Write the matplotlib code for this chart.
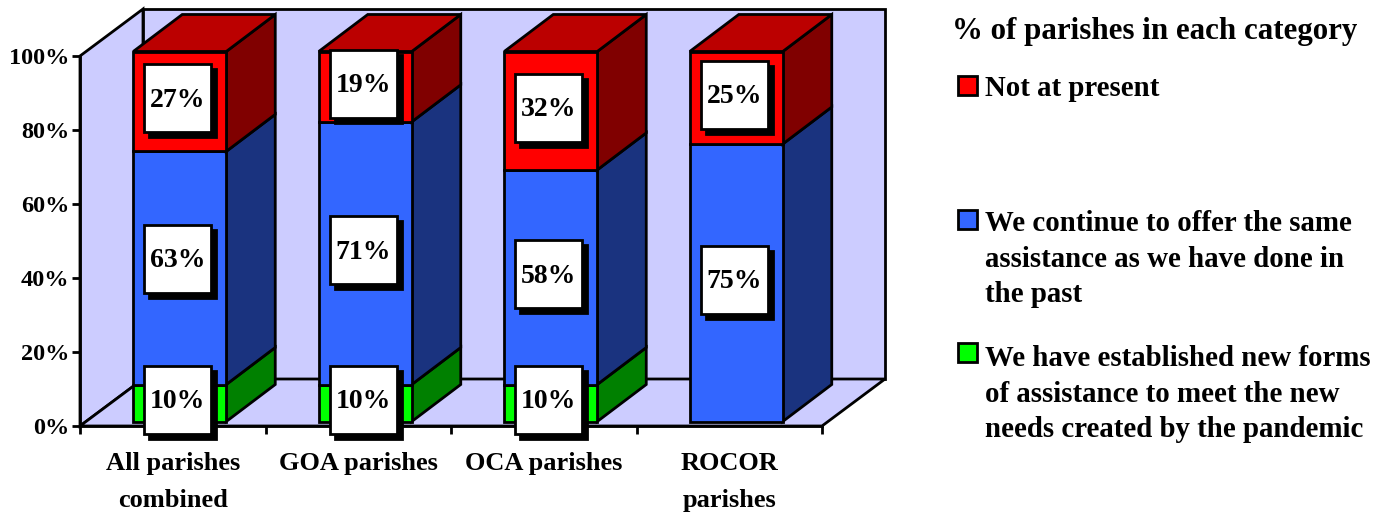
import matplotlib
matplotlib.use("Agg")
import matplotlib.pyplot as plt
from matplotlib.patches import Polygon, Rectangle

categories = ["All parishes\ncombined", "GOA parishes", "OCA parishes", "ROCOR\nparishes"]
new_forms = [10, 10, 10, 0]
same = [63, 71, 58, 75]
not_present = [27, 19, 32, 25]
y_ticks = [0, 20, 40, 60, 80, 100]
legend_title = "% of parishes in each category"
legend_labels = ["Not at present",
                 "We continue to offer the same\nassistance as we have done in\nthe past",
                 "We have established new forms\nof assistance to meet the new\nneeds created by the pandemic"]

plt.rcParams['font.family'] = ['Liberation Serif', 'DejaVu Serif']
plt.rcParams['font.weight'] = 'bold'

W, H = 1388, 512
fig = plt.figure(figsize=(W/100, H/100), dpi=100)
L, R, T, B = 80, 822, 56, 426
ax = fig.add_axes([L/W, 1-B/H, (R-L)/W, (B-T)/H])
ax.set_xlim(0, len(categories))
ax.set_ylim(0, 100)
px = len(categories)/(R-L)   # data units per pixel, x
py = 100/(B-T)               # data units per pixel, y
LW = 2.0
EC = 'black'

def poly(pts, fc, z=2):
    ax.add_patch(Polygon(pts, closed=True, fc=fc, ec=EC, lw=LW, zorder=z, clip_on=False, joinstyle='miter'))

n = len(categories)
DX, DY = 63*px, 47*py
WALL = '#CCCCFF'
poly([(0, 0), (DX, DY), (DX, 100+DY), (0, 100)], WALL, 1)
poly([(DX, DY), (n+DX, DY), (n+DX, 100+DY), (DX, 100+DY)], WALL, 1)
poly([(0, 0), (n, 0), (n+DX, DY), (DX, DY)], WALL, 1)

# bar geometry
bw = 93*px
ox, oy = 7*px, 4.5*py
bx, by = 49*px, 37*py
series = [(new_forms, '#00FF00', '#008000', '#006000'),
          (same, '#3366FF', '#1A337F', '#1A337F'),
          (not_present, '#FF0000', '#800000', '#BB0000')]

z = 3
for i in range(n):
    x0 = i + 0.5 - bw/2 + ox
    bottom = oy
    tops = []
    for vals, front, side, top in series:
        v = vals[i]
        if v == 0:
            continue
        y0, y1 = bottom, bottom + v
        poly([(x0+bw, y0), (x0+bw+bx, y0+by), (x0+bw+bx, y1+by), (x0+bw, y1)], side, z)
        poly([(x0, y0), (x0+bw, y0), (x0+bw, y1), (x0, y1)], front, z)
        bottom = y1
        tops.append(top)
    poly([(x0, bottom), (x0+bw, bottom), (x0+bw+bx, bottom+by), (x0+bx, bottom+by)], tops[-1], z)

# value labels
bwid, bhei = 67*px, 68*py
sx, sy = 5*px, 5*py
for i in range(n):
    cx = i + 0.5 + ox - 2*px
    bottom = oy
    for vals, *_ in series:
        v = vals[i]
        if v == 0:
            continue
        cy = bottom + v/2 + 3*py
        if vals is same and i == 0:
            cy += 6*py   # this label sits higher in the original
        bottom += v
        ax.add_patch(Rectangle((cx-bwid/2+sx, cy-bhei/2-sy), bwid, bhei, fc='black', ec='black', lw=LW, zorder=6, clip_on=False))
        ax.add_patch(Rectangle((cx-bwid/2, cy-bhei/2), bwid, bhei, fc='white', ec='black', lw=LW, zorder=7, clip_on=False))
        ax.text(cx, cy-2*py, f"{v}%", ha='center', va='center', fontsize=20, zorder=8, color='black')

# axes
for s in ['top', 'right']:
    ax.spines[s].set_visible(False)
for s in ['left', 'bottom']:
    ax.spines[s].set_linewidth(LW)
    ax.spines[s].set_zorder(5)
ax.set_yticks(y_ticks, [f"{t}%" for t in y_ticks], fontsize=17.5)
ax.set_xticks(range(n+1), [''] * (n+1))
ax.tick_params(axis='both', length=6, width=LW, pad=1.5)
for i, c in enumerate(categories):
    ax.annotate(c, xy=(i+0.5, 0), xycoords='data', xytext=(0, -19), textcoords='offset points',
                ha='center', va='top', fontsize=19, linespacing=1.75, annotation_clip=False)

# legend
fig.text(952/W, 1-32/H, legend_title, fontsize=22.3, ha='left', va='center')
colors = ['#FF0000', '#3366FF', '#00FF00']
tops_px = [76, 210, 343]
text_tops = [75, 210, 345]
for c, t, tt, lab in zip(colors, tops_px, text_tops, legend_labels):
    fig.patches.append(Rectangle((958/W, 1-(t+19)/H), 18.5/W, 19/H, transform=fig.transFigure,
                                 fc=c, ec='black', lw=LW))
    fig.text(985/W, 1-tt/H, lab, fontsize=20.8, ha='left', va='top', linespacing=1.41)

fig.savefig("out.png", dpi=100)
